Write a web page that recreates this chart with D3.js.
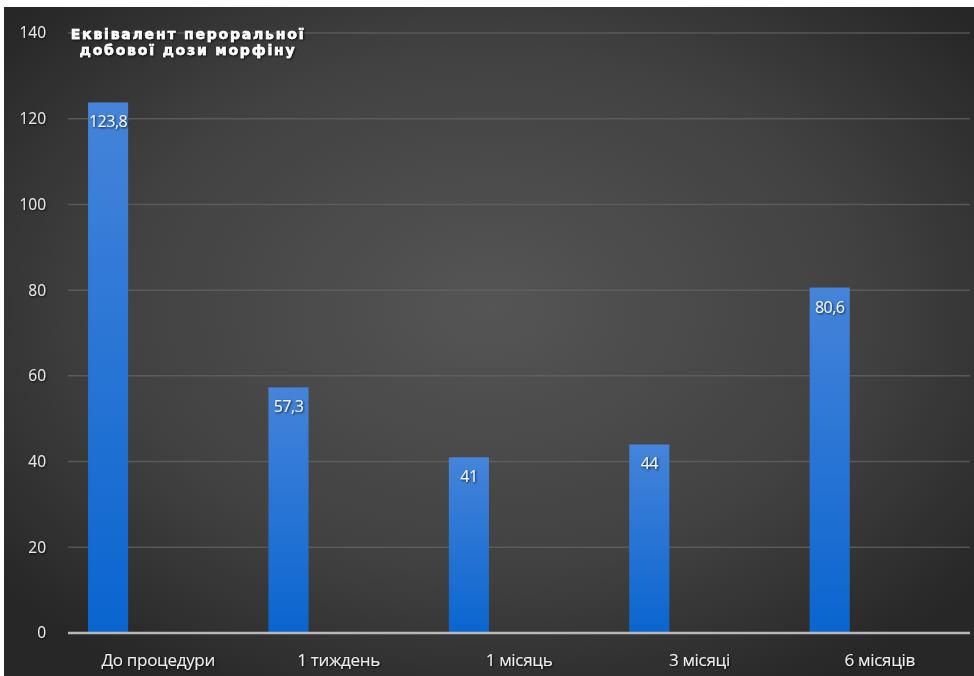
<!DOCTYPE html>
<html>
<head>
<meta charset="utf-8">
<script src="https://cdn.jsdelivr.net/npm/d3@7/dist/d3.min.js"></script>
<style>
  html, body { margin: 0; padding: 0; background: #ffffff; }
  svg { display: block; }
</style>
</head>
<body>
<svg id="chart" width="974" height="676"></svg>
<script>
// Oral morphine equivalent daily dose over time
const categories = ["До процедури", "1 тиждень", "1 місяць", "3 місяці", "6 місяців"];
const values = [123.8, 57.3, 41, 44, 80.6];
const valueLabels = ["123,8", "57,3", "41", "44", "80,6"];
const yTicks = [0, 20, 40, 60, 80, 100, 120, 140];
const titleLines = ["Еквівалент пероральної", "добової дози морфіну"];

const W = 974, H = 676;
const svg = d3.select("#chart");
const defs = svg.append("defs");

// dark panel with a soft radial highlight
const bgGrad = defs.append("radialGradient")
  .attr("id", "bgGrad").attr("cx", "50%").attr("cy", "45%").attr("r", "65%");
bgGrad.append("stop").attr("offset", "0%").attr("stop-color", "#555555");
bgGrad.append("stop").attr("offset", "60%").attr("stop-color", "#414141");
bgGrad.append("stop").attr("offset", "100%").attr("stop-color", "#272727");

const barGrad = defs.append("linearGradient")
  .attr("id", "barGrad").attr("x1", 0).attr("y1", 0).attr("x2", 0).attr("y2", 1);
barGrad.append("stop").attr("offset", "0%").attr("stop-color", "#4584da");
barGrad.append("stop").attr("offset", "100%").attr("stop-color", "#0a65cf");

const shadow = defs.append("filter").attr("id", "txtShadow")
  .attr("x", "-10%").attr("y", "-30%").attr("width", "120%").attr("height", "160%");
shadow.append("feDropShadow").attr("dx", 1).attr("dy", 1).attr("stdDeviation", 0.8)
  .attr("flood-color", "#000").attr("flood-opacity", 0.8);

svg.append("rect").attr("x", 4).attr("y", 7).attr("width", W - 4).attr("height", H - 7)
  .attr("fill", "url(#bgGrad)");

const plot = { left: 68, right: 970, top: 33, bottom: 633 };

const x = d3.scaleBand().domain(categories).range([plot.left, plot.right]).padding(0);
// each category holds the value bar in the left slot of a two-slot cluster
const slot = d3.scaleBand().domain(["value", "spare"]).range([0, x.bandwidth()])
  .paddingInner(0.6).paddingOuter(0.2);
const y = d3.scaleLinear().domain([0, 140]).range([plot.bottom, plot.top]);

// gridlines
svg.append("g").selectAll("line").data(yTicks.filter(d => d > 0)).join("line")
  .attr("x1", plot.left).attr("x2", plot.right)
  .attr("y1", d => y(d)).attr("y2", d => y(d))
  .attr("stroke", "#666666").attr("stroke-width", 1.5).attr("opacity", 0.7);

// y axis labels
const yAxis = d3.axisLeft(y).tickValues(yTicks).tickSize(0).tickPadding(0);
const yg = svg.append("g").attr("transform", `translate(46,0)`).call(yAxis);
yg.select(".domain").remove();
yg.selectAll("text")
  .attr("fill", "#e6e6e6").attr("font-family", "'Open Sans', 'Noto Sans', sans-serif")
  .attr("font-size", 15.5).attr("filter", "url(#txtShadow)");

// bars
svg.append("g").selectAll("rect").data(values).join("rect")
  .attr("x", (d, i) => x(categories[i]) + slot("value"))
  .attr("width", slot.bandwidth())
  .attr("y", d => y(d))
  .attr("height", d => y(0) - y(d))
  .attr("fill", "url(#barGrad)");

// value labels
svg.append("g").selectAll("text").data(values).join("text")
  .attr("x", (d, i) => x(categories[i]) + slot("value") + slot.bandwidth() / 2)
  .attr("y", d => y(d) + 25)
  .attr("text-anchor", "middle")
  .attr("fill", "#f4f4f4")
  .attr("font-family", "'Open Sans', 'Noto Sans', sans-serif")
  .attr("font-size", 16)
  .attr("letter-spacing", -0.5)
  .attr("filter", "url(#txtShadow)")
  .text((d, i) => valueLabels[i]);

// x axis line
svg.append("line").attr("x1", plot.left).attr("x2", plot.right)
  .attr("y1", y(0)).attr("y2", y(0))
  .attr("stroke", "#b8b8b8").attr("stroke-width", 2.5);

// category labels
const xAxis = d3.axisBottom(x).tickSize(0).tickPadding(0);
const xg = svg.append("g").attr("transform", `translate(0,${y(0) + 33})`).call(xAxis);
xg.select(".domain").remove();
xg.selectAll("text")
  .attr("dy", 0)
  .attr("fill", "#ececec").attr("font-family", "'Open Sans', 'Noto Sans', sans-serif")
  .attr("font-size", 17).attr("letter-spacing", -0.3).attr("filter", "url(#txtShadow)");

// title
svg.append("g").selectAll("text").data(titleLines).join("text")
  .attr("x", 188).attr("y", (d, i) => 39 + i * 16)
  .attr("text-anchor", "middle")
  .attr("fill", "#ffffff")
  .attr("stroke", "#ffffff")
  .attr("stroke-width", 0.5)
  .attr("font-family", "'DejaVu Sans', sans-serif")
  .attr("font-weight", "bold")
  .attr("font-size", 14)
  .attr("letter-spacing", 1.8)
  .attr("filter", "url(#txtShadow)")
  .text(d => d);
</script>
</body>
</html>
